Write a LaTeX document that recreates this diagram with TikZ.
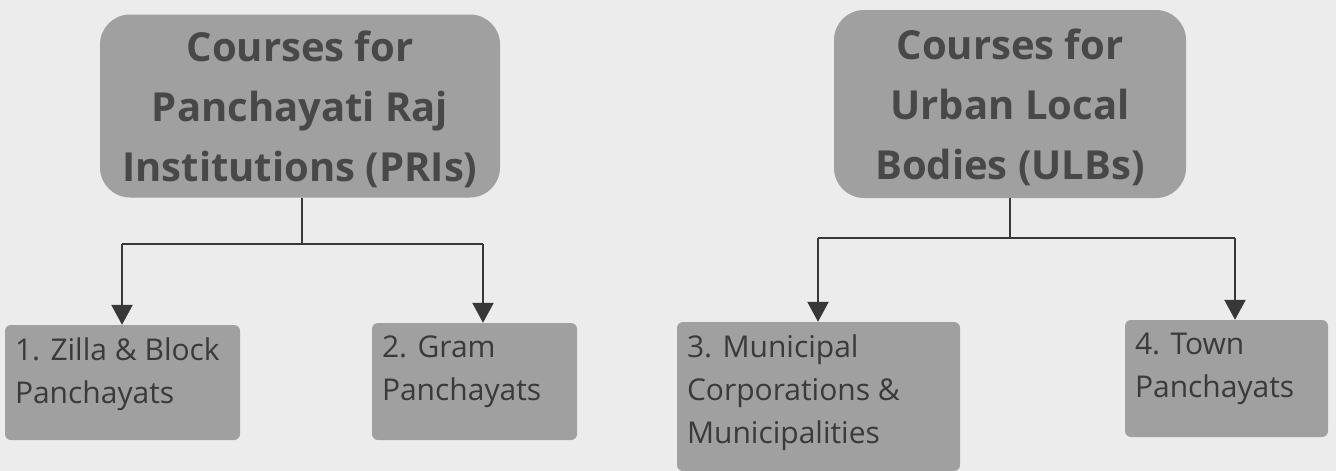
\documentclass[tikz,border=0pt]{standalone}
\usepackage{fontspec}
\setmainfont{Open Sans}
\usetikzlibrary{arrows.meta}
\definecolor{bg}{HTML}{ECECEC}
\definecolor{boxfill}{HTML}{A0A0A0}
\definecolor{txt}{HTML}{3A3A3A}
\definecolor{ttxt}{HTML}{484848}
\definecolor{ln}{HTML}{383838}
\tikzset{
  x=1pt, y=-1pt,
  titlebox/.style={fill=boxfill, rounded corners=30pt, inner sep=0pt, text=ttxt,
    font=\fontsize{40}{60}\selectfont\bfseries, align=center},
  itembox/.style={fill=boxfill, rounded corners=6pt, inner sep=0pt, text=txt,
    font=\fontsize{30}{43}\selectfont},
  conn/.style={draw=ln, line width=2.4pt},
  arr/.style={conn, -{Triangle[length=20pt,width=21pt]}},
}
\newcommand{\itemtext}[3]{\parbox[c][#2pt][t]{#1pt}{\vspace{13pt}\hspace*{10pt}\parbox[t]{#1pt}{\raggedright #3}}}
\begin{document}
\begin{tikzpicture}
\fill[bg] (0,0) rectangle (1336,471);
\useasboundingbox (0,0) rectangle (1336,471);

\node[titlebox, minimum width=400pt, minimum height=183pt] (pri) at (300,106)
  {\rule{0pt}{38pt}Courses for\\Panchayati Raj\\Institutions (PRIs)};
\node[titlebox, minimum width=352pt, minimum height=188pt] (ulb) at (1010,104)
  {\rule{0pt}{37pt}Courses for\\Urban Local\\Bodies (ULBs)};

\node[itembox] (i1) at (122.5,382.5) {\itemtext{235}{115}{1. Zilla \& Block\\Panchayats}};
\node[itembox] (i2) at (474.5,381.5) {\itemtext{205}{117}{2. Gram\\Panchayats}};
\node[itembox] (i3) at (818.5,396.5) {\itemtext{283}{149}{3. Municipal\\Corporations \&\\Municipalities}};
\node[itembox] (i4) at (1226.5,378.5) {\itemtext{203}{117}{4. Town\\Panchayats}};

\coordinate (pj) at (302,244);
\coordinate (pl) at (122,244);
\coordinate (pr) at (483,244);
\draw[conn] (pri.south -| pj) -- (pj);
\draw[conn] (pl) -- (pr);
\draw[arr] (pl) -- (pl |- i1.north);
\draw[arr] (pr) -- (pr |- i2.north);

\coordinate (uj) at (1010,238);
\coordinate (ul) at (818,238);
\coordinate (ur) at (1235,238);
\draw[conn] (ulb.south -| uj) -- (uj);
\draw[conn] (ul) -- (ur);
\draw[arr] (ul) -- (ul |- i3.north);
\draw[arr] (ur) -- (ur |- i4.north);
\end{tikzpicture}
\end{document}
